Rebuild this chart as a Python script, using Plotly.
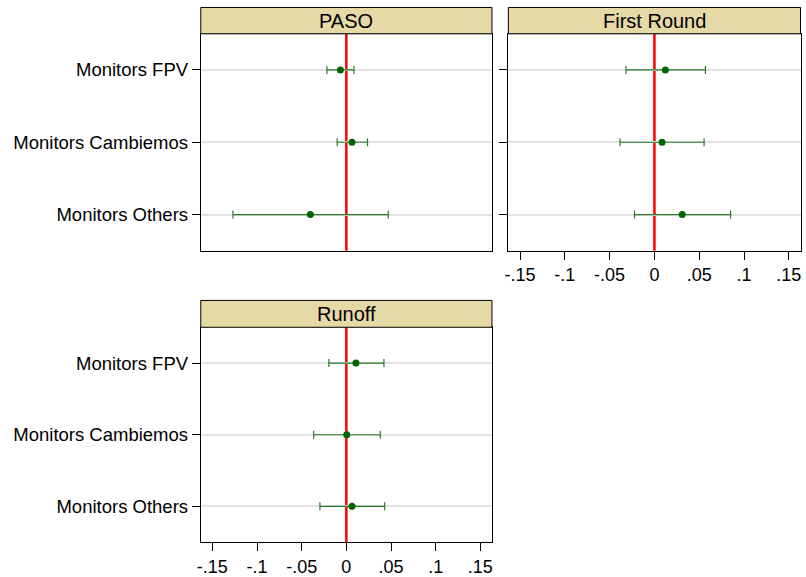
import plotly.graph_objects as go

W, H = 806, 577

categories = ["Monitors FPV", "Monitors Cambiemos", "Monitors Others"]
panels = ["PASO", "First Round", "Runoff"]

paso_coef = [-0.0067, 0.0063, -0.0403]
paso_lo = [-0.0218, -0.0103, -0.1270]
paso_hi = [0.0085, 0.0237, 0.0469]

first_coef = [0.0122, 0.0085, 0.0310]
first_lo = [-0.0318, -0.0384, -0.0222]
first_hi = [0.0569, 0.0554, 0.0850]

runoff_coef = [0.0107, 0.0004, 0.0063]
runoff_lo = [-0.0196, -0.0366, -0.0296]
runoff_hi = [0.0421, 0.0380, 0.0429]

tick_vals = [-0.15, -0.1, -0.05, 0, 0.05, 0.1, 0.15]
tick_text = ["-.15", "-.1", "-.05", "0", ".05", ".1", ".15"]

data = [
    (paso_coef, paso_lo, paso_hi),
    (first_coef, first_lo, first_hi),
    (runoff_coef, runoff_lo, runoff_hi),
]

# pixel boxes: (x0, x1, strip_top, plot_top, plot_bottom)
boxes = [
    (198, 491, 7.5, 34, 252),
    (507.5, 801.5, 7.5, 34, 252),
    (198, 491, 302, 329, 545),
]

FONT = "Liberation Sans, Arial, Helvetica, sans-serif"
fig = go.Figure()
shapes = []
annotations = []

for i, ((coef, lo, hi), (x0, x1, st, pt, pb), name) in enumerate(zip(data, boxes, panels)):
    suf = "" if i == 0 else str(i + 1)
    xa, ya = "x" + suf, "y" + suf
    fig.add_trace(go.Scatter(
        x=coef, y=categories, xaxis=xa, yaxis=ya, mode="markers",
        marker=dict(color="#006400", size=7),
        error_x=dict(type="data", symmetric=False,
                     array=[h - c for h, c in zip(hi, coef)],
                     arrayminus=[c - l for c, l in zip(coef, lo)],
                     color="#2a7a2a", thickness=1.2, width=4),
        showlegend=False, hoverinfo="skip",
    ))
    dom_x = [x0 / W, x1 / W]
    dom_y = [1 - pb / H, 1 - pt / H]
    show_xlabels = i != 0
    fig.layout["xaxis" + suf] = dict(
        domain=dom_x, anchor=ya, range=[-0.163, 0.163],
        tickvals=tick_vals, ticktext=tick_text,
        showticklabels=show_xlabels,
        ticks="outside" if show_xlabels else "", ticklen=8, tickcolor="black",
        showgrid=False, zeroline=False, showline=True, linecolor="black",
        linewidth=1, mirror=True,
        tickfont=dict(family=FONT, size=18, color="black"),
    )
    fig.layout["yaxis" + suf] = dict(
        domain=dom_y, anchor=xa, type="category",
        categoryorder="array", categoryarray=categories,
        range=[2.5, -0.5],
        showticklabels=(i != 1), ticks="outside", ticklen=8, tickcolor="black",
        showgrid=True, gridcolor="#e2e2e2", gridwidth=1.6,
        zeroline=False, showline=True, linecolor="black", linewidth=1, mirror=True,
        tickfont=dict(family=FONT, size=18.5, color="black"),
    )
    # red reference line at zero
    shapes.append(dict(type="line", xref=xa, yref="paper",
                       x0=0, x1=0, y0=dom_y[0], y1=dom_y[1], layer="between",
                       line=dict(color="#ff0000", width=2.5)))
    # title strip
    shapes.append(dict(type="rect", xref="paper", yref="paper",
                       x0=x0 / W, x1=x1 / W, y0=1 - pt / H, y1=1 - st / H,
                       fillcolor="#e5d9a6", line=dict(color="black", width=1)))
    annotations.append(dict(text=name, xref="paper", yref="paper",
                            x=(x0 + x1) / 2 / W, y=1 - (st + pt) / 2 / H,
                            xanchor="center", yanchor="middle", showarrow=False,
                            font=dict(family=FONT, size=20, color="black")))

fig.update_layout(
    width=W, height=H, margin=dict(l=0, r=0, t=0, b=0),
    paper_bgcolor="white", plot_bgcolor="white",
    shapes=shapes, annotations=annotations,
    font=dict(family=FONT, color="black"),
)

fig.write_html("out.html", config={"displayModeBar": False},
               post_script="document.body.style.margin='0';document.body.style.padding='0';")
